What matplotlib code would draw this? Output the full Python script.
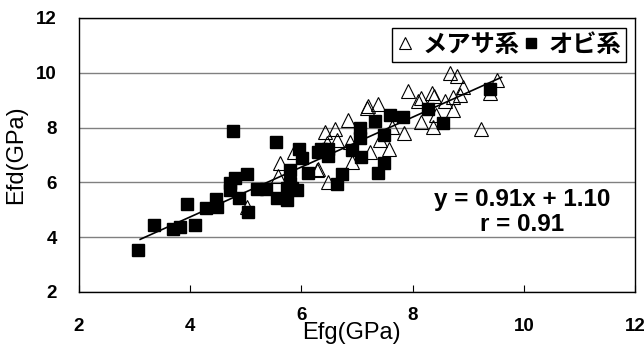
import numpy as np
import matplotlib.pyplot as plt
from matplotlib.lines import Line2D

plt.rcParams['font.family'] = ['Liberation Sans', 'Noto Sans CJK JP', 'DejaVu Sans']

# メアサ系 (triangles)
measa_x = [5.62, 5.58, 5.87, 5.02, 6.42, 6.60, 6.64, 6.84, 6.30, 6.48, 6.46, 6.87,
           6.91, 7.18, 7.20, 7.38, 7.92, 8.10, 8.15, 8.35, 8.38, 8.58, 8.73, 8.85,
           8.67, 8.80, 8.91, 8.73, 8.42, 8.37, 8.15, 7.85, 7.63, 7.41, 7.58, 7.23,
           6.28, 9.52, 9.39, 9.23]
measa_y = [6.71, 6.23, 7.11, 5.10, 7.84, 7.95, 7.55, 8.28, 6.49, 6.01, 7.44, 7.47,
           6.74, 8.72, 8.80, 8.86, 9.34, 8.97, 9.08, 9.26, 9.15, 8.97, 9.12, 9.19,
           10.00, 9.88, 9.48, 8.64, 8.46, 8.02, 8.20, 7.80, 8.02, 7.55, 7.22, 7.11,
           6.45, 9.74, 9.26, 7.95]

# オビ系 (squares)
obi_x = [3.06, 3.35, 3.69, 3.82, 4.09, 3.94, 4.28, 4.48, 4.46, 4.72, 4.72, 4.81,
         4.88, 4.77, 5.02, 5.04, 5.20, 5.36, 5.54, 5.56, 5.74, 5.80, 5.80, 5.83,
         5.74, 5.92, 5.96, 6.01, 6.12, 6.30, 6.36, 6.48, 6.48, 6.64, 6.73, 6.91,
         7.05, 7.05, 7.08, 7.32, 7.59, 7.83, 7.49, 7.49, 7.38, 8.28, 8.55, 9.39,
         9.63]
obi_y = [3.55, 4.45, 4.30, 4.37, 4.45, 5.21, 5.07, 5.10, 5.39, 5.72, 5.98, 6.16,
         5.43, 7.88, 6.31, 4.92, 5.76, 5.76, 7.47, 5.43, 5.36, 6.45, 5.98, 5.80,
         5.80, 5.72, 7.22, 6.89, 6.34, 7.11, 7.22, 7.22, 6.98, 5.94, 6.31, 7.18,
         7.99, 7.62, 6.93, 8.24, 8.46, 8.39, 7.73, 6.71, 6.34, 8.68, 8.17, 9.41,
         10.65]

slope, intercept = 0.91, 1.10
fit_x = np.array([3.1, 9.6])

ticks = [2, 4, 6, 8, 10, 12]

fig = plt.figure(figsize=(6.44, 3.52), dpi=100)
ax = fig.add_axes([0.1227, 0.1705, 0.8633, 0.7784])

ax.plot(measa_x, measa_y, linestyle='none', marker='^', ms=9.5, mfc='none',
        mec='black', mew=0.8, zorder=3)
ax.plot(obi_x, obi_y, linestyle='none', marker='s', ms=8.5, mfc='black',
        mec='black', zorder=4)
ax.plot(fit_x, slope * fit_x + intercept, color='black', lw=1.2, zorder=5)

ax.set_xlim(2, 12)
ax.set_ylim(2, 12)
ax.set_xticks(ticks)
ax.set_yticks(ticks)
ax.grid(axis='y', color='#808080', lw=1)
ax.set_axisbelow(True)
for sp in ax.spines.values():
    sp.set_linewidth(1)
ax.tick_params(axis='x', direction='in', length=5, pad=19, labelsize=13.5)
ax.tick_params(axis='y', length=0, pad=16, labelsize=13.5)
for lab in ax.get_xticklabels() + ax.get_yticklabels():
    lab.set_fontweight('bold')
# the 6 and 8 labels sit a little higher in the original
for lab in ax.get_xticklabels():
    if lab.get_text() in ('6', '8'):
        lab.set_y(0.04)

ax.set_xlabel('Efg(GPa)', fontsize=17)
ax.xaxis.set_label_coords(0.490, -0.11)
ax.set_ylabel('Efd(GPa)', fontsize=17)
ax.yaxis.set_label_coords(-0.094, 0.5)

ax.text(9.97, 4.93, 'y = 0.91x + 1.10\nr = 0.91', ha='center', va='center',
        fontsize=17.5, fontweight='bold', linespacing=1.1)

handles = [
    Line2D([], [], linestyle='none', marker='^', ms=8.5, mfc='none', mec='black', mew=0.8),
    Line2D([], [], linestyle='none', marker='s', ms=7.5, mfc='black', mec='black'),
]
leg = ax.legend(handles, ['メアサ系', 'オビ系'], ncol=2, loc='upper right',
                bbox_to_anchor=(0.984, 0.964), frameon=True, fancybox=False,
                edgecolor='black', framealpha=1, borderpad=0.2,
                handlelength=0.7, handletextpad=0.35, columnspacing=0.15,
                borderaxespad=0,
                prop={'family': 'Noto Sans CJK JP', 'weight': 'bold', 'size': 17.5})
leg.get_frame().set_linewidth(1)
leg.set_zorder(10)

fig.savefig('out.png', dpi=100)
